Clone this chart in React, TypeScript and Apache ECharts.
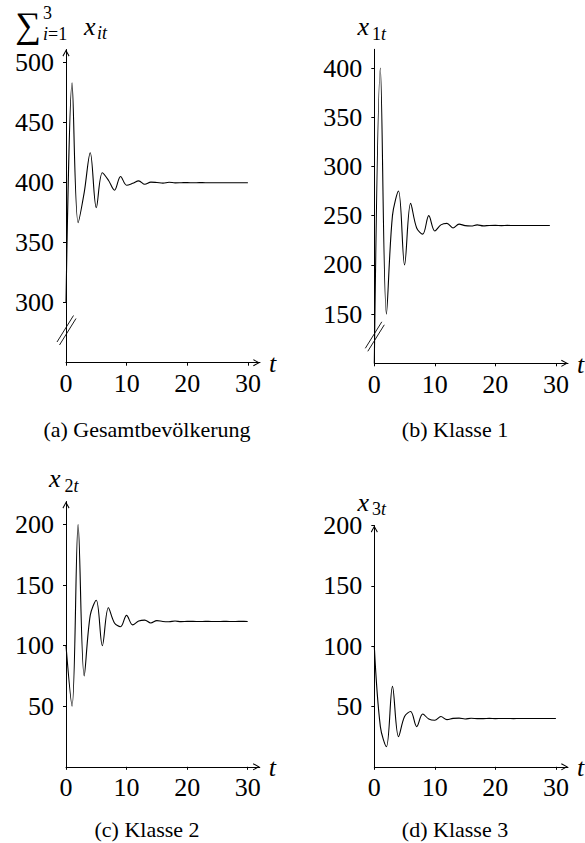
import React, { useEffect, useRef } from 'react';
import * as echarts from 'echarts';

// ---------- data ----------
const tValues = [0, 1, 2, 3, 4, 5, 6, 7, 8, 9, 10, 11, 12, 13, 14, 15, 16, 17, 18, 19, 20, 21, 22, 23, 24, 25, 26, 27, 28, 29, 30];
const xTicks = [0, 10, 20, 30];

const totalPop = [300, 483.33, 366.67, 391.67, 425, 379.17, 408.33, 402.08, 393.75, 405.21, 397.92, 399.48, 401.56, 398.7, 400.52, 400.13, 399.61, 400.33, 399.87, 399.97, 400.1, 399.92, 400.03, 400.01, 399.98, 400.02, 399.99, 400, 400.01, 400, 400];
const class1 = [100, 400, 150, 250, 275, 200, 262.5, 237.5, 231.25, 250, 234.38, 240.63, 242.19, 237.5, 241.41, 239.84, 239.45, 240.63, 239.65, 240.04, 240.14, 239.84, 240.09, 239.99, 239.97, 240.04, 239.98, 240, 240.01, 239.99];
const class2 = [100, 50, 200, 75, 125, 137.5, 100, 131.25, 118.75, 115.63, 125, 117.19, 120.31, 121.09, 118.75, 120.7, 119.92, 119.73, 120.31, 119.82, 120.02, 120.07, 119.92, 120.04, 120, 119.98, 120.02, 119.99, 120, 120.01, 120];
const class3 = [100, 33.33, 16.67, 66.67, 25, 41.67, 45.83, 33.33, 43.75, 39.58, 38.54, 41.67, 39.06, 40.1, 40.37, 39.58, 40.23, 39.97, 39.91, 40.1, 39.94, 40.01, 40.02, 39.97, 40.02, 40, 39.99, 40.01, 40, 40, 40];

const yTicksA = [300, 350, 400, 450, 500];
const yTicksB = [150, 200, 250, 300, 350, 400];
const yTicksC = [50, 100, 150, 200];
const yTicksD = [50, 100, 150, 200];

const captions = ['(a) Gesamtbevölkerung', '(b) Klasse 1', '(c) Klasse 2', '(d) Klasse 3'];
const xName = 't';

// ---------- layout ----------
const SERIF = "'Liberation Serif', 'DejaVu Serif', serif";
const ARROW = 'path://M5,0L10,9L8.8,9.8L5,2.8L1.2,9.8L0,9Z';
const XMAX = 32;

const panels = [
  { left: 66, right: 260, top: 49.5, bottom: 362.7, ymin: 250, ymax: 511, ticks: yTicksA, values: totalPop, arrow: true },
  { left: 374.3, right: 568, top: 49.3, bottom: 363.3, ymin: 100, ymax: 419, ticks: yTicksB, values: class1, arrow: false },
  { left: 66, right: 259.8, top: 501.5, bottom: 766.8, ymin: 0, ymax: 219, ticks: yTicksC, values: class2, arrow: true },
  { left: 374.3, right: 568, top: 525.5, bottom: 766.8, ymin: 0, ymax: 200, ticks: yTicksD, values: class3, arrow: true },
];

const captionPos = [
  [147, 429.6],
  [455, 429.6],
  [147, 829.3],
  [455, 829.3],
];

function txt(text: string, x: number, y: number, size: number, italic: boolean, align = 'left', rich?: any) {
  return {
    type: 'text',
    x,
    y,
    silent: true,
    style: {
      text,
      fontSize: size,
      fontFamily: SERIF,
      fontStyle: italic ? 'italic' : 'normal',
      fill: '#000',
      align,
      verticalAlign: 'middle',
      rich,
    },
  };
}

function brk(cx: number, cy: number) {
  const ls = { stroke: '#000', lineWidth: 0.9 };
  return [
    { type: 'line', silent: true, shape: { x1: cx - 9.5, y1: cy + 11.8, x2: cx + 7, y2: cy - 14.7 }, style: ls },
    { type: 'line', silent: true, shape: { x1: cx - 7, y1: cy + 14.8, x2: cx + 9.5, y2: cy - 11.7 }, style: ls },
  ];
}

function buildOption() {
  const grid: any[] = [];
  const xAxis: any[] = [];
  const yAxis: any[] = [];
  const series: any[] = [];
  const axisLineStyle = { color: '#000', width: 1 };

  panels.forEach((p, i) => {
    grid.push({
      left: p.left,
      top: p.top,
      width: p.right - p.left,
      height: p.bottom - p.top,
      show: false,
      containLabel: false,
      outerBoundsMode: 'none',
    });
    xAxis.push({
      type: 'value',
      gridIndex: i,
      min: 0,
      max: XMAX,
      axisLine: {
        show: true,
        onZero: false,
        symbol: ['none', ARROW],
        symbolSize: [7, 7],
        symbolOffset: [0, -3.5],
        lineStyle: axisLineStyle,
      },
      axisTick: { show: true, length: 3, customValues: xTicks, lineStyle: axisLineStyle },
      axisLabel: { show: false },
      splitLine: { show: false },
    });
    yAxis.push({
      type: 'value',
      gridIndex: i,
      min: p.ymin,
      max: p.ymax,
      axisLine: {
        show: true,
        onZero: false,
        symbol: p.arrow ? ['none', ARROW] : ['none', 'none'],
        symbolSize: [7, 7],
        symbolOffset: [0, -3.5],
        lineStyle: axisLineStyle,
      },
      axisTick: { show: true, length: 3, customValues: p.ticks, lineStyle: axisLineStyle },
      axisLabel: { show: false },
      splitLine: { show: false },
    });
    series.push({
      type: 'line',
      xAxisIndex: i,
      yAxisIndex: i,
      data: p.values.map((v, k) => [tValues[k], v]),
      showSymbol: false,
      symbol: 'none',
      smooth: 0.35,
      silent: true,
      lineStyle: { color: '#000', width: 1.1 },
    });
  });

  return {
    animation: false,
    backgroundColor: '#fff',
    textStyle: { fontFamily: SERIF, color: '#000' },
    grid,
    xAxis,
    yAxis,
    series,
  };
}

function buildGraphic(chart: echarts.ECharts) {
  const subRich = (size: number) => ({
    i: { fontSize: size, fontStyle: 'italic', fontFamily: SERIF, color: '#000' },
    n: { fontSize: size, fontStyle: 'normal', fontFamily: SERIF, color: '#000' },
  });

  const els: any[] = [
    // (a) sum_{i=1}^{3} x_{it}
    txt('\u2211', 28, 25, 36, false, 'center'),
    txt('3', 47.5, 12.5, 18, false, 'center'),
    txt('{i|i}{n|=1}', 43, 33.5, 18, false, 'left', subRich(18)),
    txt('x', 84, 26.2, 26, true),
    txt('it', 97, 33.4, 18, true),
    // (b) x_{1t}
    txt('x', 357.5, 26.9, 26, true),
    txt('{n|1}{i|t}', 372, 33.9, 18, false, 'left', subRich(18)),
    // (c) x_{2t}
    txt('x', 49, 478.2, 26, true),
    txt('{n|2}{i|t}', 64.5, 486.4, 18, false, 'left', subRich(18)),
    // (d) x_{3t}
    txt('x', 357.5, 502.5, 26, true),
    txt('{n|3}{i|t}', 372, 508.6, 18, false, 'left', subRich(18)),
    ...brk(66.5, 330.2),
    ...brk(374.8, 336.5),
    ...captions.map((c, i) => txt(c, captionPos[i][0], captionPos[i][1], 22, false, 'center')),
  ];

  // tick labels and axis names, placed through the axes' own scales
  panels.forEach((p, i) => {
    xTicks.forEach((v) => {
      const pt = chart.convertToPixel({ gridIndex: i }, [v, p.ymin]) as number[];
      els.push(txt(String(v), pt[0], pt[1] + 21, 26, false, 'center'));
    });
    p.ticks.forEach((v) => {
      const pt = chart.convertToPixel({ gridIndex: i }, [0, v]) as number[];
      els.push(txt(String(v), pt[0] - 12, pt[1], 26, false, 'right'));
    });
    const end = chart.convertToPixel({ gridIndex: i }, [XMAX, p.ymin]) as number[];
    els.push(txt(xName, end[0] + 9, end[1] + 1, 26, true, 'left'));
  });
  return els;
}

export default function App() {
  const ref = useRef<HTMLDivElement>(null);
  useEffect(() => {
    if (!ref.current) return;
    const chart = echarts.init(ref.current, undefined, { renderer: 'svg' });
    chart.setOption(buildOption() as any);
    chart.setOption({ graphic: buildGraphic(chart) } as any);
    return () => chart.dispose();
  }, []);
  return (
    <div
      ref={ref}
      style={{ position: 'absolute', left: 0, top: 0, width: 585, height: 843, background: '#fff' }}
    />
  );
}
